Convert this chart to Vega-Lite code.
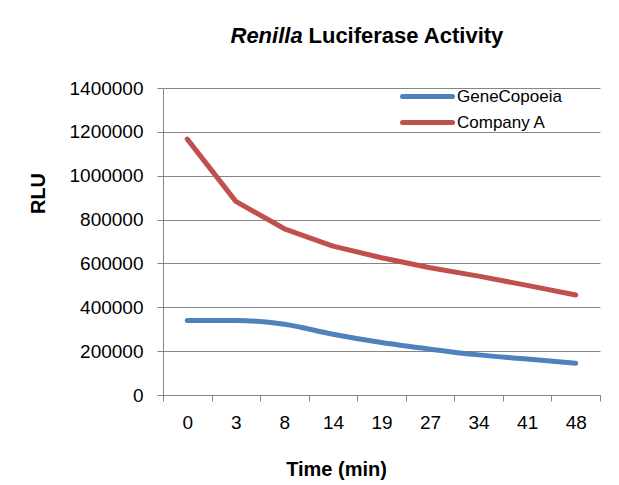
{
  "$schema": "https://vega.github.io/schema/vega-lite/v6.json",
  "width": 437,
  "height": 307,
  "autosize": "none",
  "padding": {"left": 163, "top": 88, "right": 19, "bottom": 90},
  "background": "white",
  "config": {"font": "Liberation Sans", "view": {"stroke": null}},
  "data": {
    "values": [
      {"time": 0, "series": "GeneCopoeia", "rlu": 340000},
      {"time": 3, "series": "GeneCopoeia", "rlu": 340000},
      {"time": 8, "series": "GeneCopoeia", "rlu": 323000},
      {"time": 14, "series": "GeneCopoeia", "rlu": 277000},
      {"time": 19, "series": "GeneCopoeia", "rlu": 239000},
      {"time": 27, "series": "GeneCopoeia", "rlu": 209000},
      {"time": 34, "series": "GeneCopoeia", "rlu": 183000},
      {"time": 41, "series": "GeneCopoeia", "rlu": 164000},
      {"time": 48, "series": "GeneCopoeia", "rlu": 145000},
      {"time": 0, "series": "Company A", "rlu": 1167000},
      {"time": 3, "series": "Company A", "rlu": 883000},
      {"time": 8, "series": "Company A", "rlu": 758000},
      {"time": 14, "series": "Company A", "rlu": 679000},
      {"time": 19, "series": "Company A", "rlu": 626000},
      {"time": 27, "series": "Company A", "rlu": 580000},
      {"time": 34, "series": "Company A", "rlu": 542000},
      {"time": 41, "series": "Company A", "rlu": 500000},
      {"time": 48, "series": "Company A", "rlu": 456000}
    ]
  },
  "encoding": {
    "color": {
      "field": "series",
      "type": "nominal",
      "scale": {"domain": ["GeneCopoeia", "Company A"], "range": ["#4F81BD", "#C0504D"]},
      "legend": {
        "title": null,
        "orient": "none",
        "legendX": 256,
        "legendY": 0,
        "symbolType": "M-5,0H5",
        "symbolSize": 100,
        "symbolStrokeWidth": 5,
        "labelFontSize": 17,
        "labelOffset": 21,
        "labelColor": "black",
        "rowPadding": 5,
        "padding": 0,
        "encode": {"symbols": {"update": {"strokeCap": {"value": "round"}}}}
      }
    }
  },
  "layer": [
    {
      "transform": [{"filter": {"field": "series", "equal": "GeneCopoeia"}}],
      "mark": {"type": "line", "interpolate": "monotone", "strokeWidth": 5, "strokeCap": "round", "strokeJoin": "round"},
      "encoding": {
        "x": {
          "field": "time", "type": "ordinal", "bandPosition": 0.5,
          "scale": {"type": "band", "paddingInner": 0, "paddingOuter": 0},
          "axis": {
            "orient": "bottom", "labelAngle": 0, "labelFontSize": 19, "labelColor": "black",
            "tickSize": 6, "labelPadding": 12, "tickBand": "extent", "grid": false,
            "domainColor": "#868686", "tickColor": "#868686",
            "title": "Time (min)", "titleFontSize": 20, "titleFontWeight": "bold", "titleColor": "black",
            "titleX": 173, "titleY": 80, "titleAlign": "center", "titleBaseline": "alphabetic"
          }
        },
        "y": {
          "field": "rlu", "type": "quantitative",
          "scale": {"domain": [0, 1400000]},
          "axis": {
            "orient": "left", "values": [0, 200000, 400000, 600000, 800000, 1000000, 1200000, 1400000],
            "format": "d", "labelFontSize": 19, "labelColor": "black", "tickSize": 6, "labelPadding": 14,
            "grid": true, "gridColor": "#868686", "domainColor": "#868686", "tickColor": "#868686",
            "title": "RLU", "titleFontSize": 20, "titleFontWeight": "bold", "titleColor": "black",
            "titleAngle": -90, "titleX": -125, "titleY": 105, "titleAlign": "center", "titleBaseline": "middle"
          }
        }
      }
    },
    {
      "transform": [{"filter": {"field": "series", "equal": "Company A"}}],
      "mark": {"type": "line", "interpolate": "linear", "strokeWidth": 5, "strokeCap": "round", "strokeJoin": "round"},
      "encoding": {
        "x": {
          "field": "time", "type": "ordinal", "bandPosition": 0.5,
          "scale": {"type": "band", "paddingInner": 0, "paddingOuter": 0},
          "axis": {
            "orient": "top", "labels": false, "ticks": false, "domain": false, "grid": false,
            "title": "Renilla", "titleFontSize": 22, "titleFontWeight": "bold", "titleFontStyle": "italic",
            "titleColor": "black", "titleAngle": 0, "titleX": 67, "titleY": -46, "titleAlign": "left", "titleBaseline": "alphabetic"
          }
        },
        "y": {
          "field": "rlu", "type": "quantitative",
          "scale": {"domain": [0, 1400000]},
          "axis": {
            "orient": "right", "labels": false, "ticks": false, "domain": false, "grid": false,
            "title": "Luciferase Activity", "titleFontSize": 22, "titleFontWeight": "bold", "titleColor": "black",
            "titleAngle": 0, "titleX": -292, "titleY": -46, "titleAlign": "left", "titleBaseline": "alphabetic"
          }
        }
      }
    }
  ],
  "resolve": {"axis": {"x": "independent", "y": "independent"}}
}
